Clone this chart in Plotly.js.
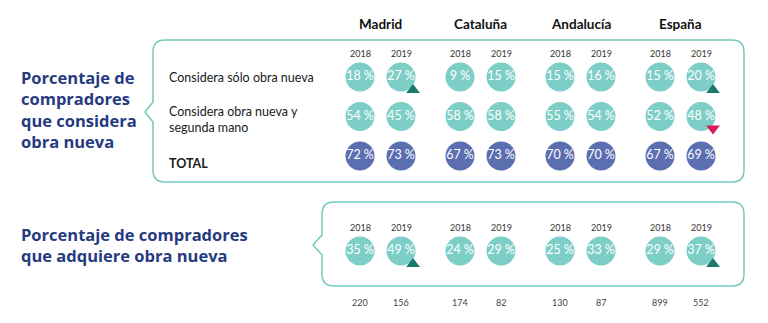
<!DOCTYPE html>
<html><head><meta charset="utf-8">
<script src="https://cdn.plot.ly/plotly-3.0.1.min.js"></script>
<style>html,body{margin:0;padding:0;background:#fff;}#chart{width:768px;height:323px;}</style>
</head><body><div id="chart"></div>
<script>
// ---- data ----
const regiones = ['Madrid', 'Cataluña', 'Andalucía', 'España'];
const anios = ['2018', '2019'];
const filasConsidera = ['Considera sólo obra nueva', 'Considera obra nueva y<br>segunda mano', 'TOTAL'];
const soloNueva2018 = [18, 9, 15, 15];
const soloNueva2019 = [27, 15, 16, 20];
const nuevaYSegunda2018 = [54, 58, 55, 52];
const nuevaYSegunda2019 = [45, 58, 54, 48];
const total2018 = [72, 67, 70, 67];
const total2019 = [73, 73, 70, 69];
const adquiere2018 = [35, 24, 25, 29];
const adquiere2019 = [49, 29, 33, 37];
const muestra2018 = [220, 174, 130, 899];
const muestra2019 = [156, 82, 87, 552];
const cambioSolo2019 = ['up', '', '', 'up'];
const cambioNuevaYSegunda2019 = ['', '', '', 'down'];
const cambioAdquiere2019 = ['up', '', '', 'up'];
const tituloConsidera = 'Porcentaje de<br>compradores<br>que considera<br>obra nueva';
const tituloAdquiere = 'Porcentaje de compradores<br>que adquiere obra nueva';

// ---- layout constants ----
const W = 768, H = 323;
const XPX = 100, X0PX = 380.5;     // pixels per region, pixel of region 0
const YPX = 39.5, Y0PX = 77;       // pixels per row, pixel of row 0
const yearOff = 0.205;
const rowAdquiere = 4.405;
const teal = '#7dcec7', blue = '#5b6eb0', up = '#1b7a6e', down = '#d81b5b', navy = '#263a80', border = '#76c7c0';
const yRow = p => (p - Y0PX) / YPX;

const xOf = (i, yr) => i + (yr === 0 ? -yearOff : yearOff);
const idx = regiones.map((_, i) => i);

function circleTrace(vals, yr, row, color) {
  return {
    type: 'scatter', mode: 'markers+text', hoverinfo: 'skip',
    x: idx.map(i => xOf(i, yr)), y: idx.map(() => row),
    text: vals.map(v => v + ' %'), textposition: 'middle center',
    textfont: {family: 'Lato', size: 12.5, color: '#ffffff'},
    marker: {size: 29, color: color, line: {width: 0}}
  };
}
function arrowTrace(cambios, yr, row, dir) {
  const sel = idx.filter(i => cambios[i] === dir);
  return {
    type: 'scatter', mode: 'markers', hoverinfo: 'skip',
    x: sel.map(i => xOf(i, yr) + 12 / XPX),
    y: sel.map(() => row + (dir === 'up' ? 13 : 12) / YPX),
    marker: {symbol: dir === 'up' ? 'triangle-up' : 'triangle-down', size: 12, color: dir === 'up' ? up : down}
  };
}

const data = [
  circleTrace(soloNueva2018, 0, 0, teal), circleTrace(soloNueva2019, 1, 0, teal),
  circleTrace(nuevaYSegunda2018, 0, 1, teal), circleTrace(nuevaYSegunda2019, 1, 1, teal),
  circleTrace(total2018, 0, 2, blue), circleTrace(total2019, 1, 2, blue),
  circleTrace(adquiere2018, 0, rowAdquiere, teal), circleTrace(adquiere2019, 1, rowAdquiere, teal),
  arrowTrace(cambioSolo2019, 1, 0, 'up'),
  arrowTrace(cambioNuevaYSegunda2019, 1, 1, 'down'),
  arrowTrace(cambioAdquiere2019, 1, rowAdquiere, 'up')
];

const ann = [];
regiones.forEach((r, i) => {
  ann.push({x: i, y: yRow(24), xref: 'x', yref: 'y', text: '<b>' + r + '</b>', showarrow: false,
    font: {family: 'Lato', size: 13.5, color: '#111'}});
  anios.forEach((a, yr) => {
    ann.push({x: xOf(i, yr), y: yRow(53), xref: 'x', yref: 'y', text: a, showarrow: false,
      font: {family: 'Lato', size: 9, color: '#333'}});
    ann.push({x: xOf(i, yr), y: yRow(227), xref: 'x', yref: 'y', text: a, showarrow: false,
      font: {family: 'Lato', size: 9, color: '#333'}});
  });
  ann.push({x: xOf(i, 0), y: yRow(302), xref: 'x', yref: 'y', text: String(muestra2018[i]), showarrow: false,
    font: {family: 'Lato', size: 9, color: '#444'}});
  ann.push({x: xOf(i, 1), y: yRow(302), xref: 'x', yref: 'y', text: String(muestra2019[i]), showarrow: false,
    font: {family: 'Lato', size: 9, color: '#444'}});
});
filasConsidera.forEach((f, k) => {
  ann.push({x: 167 / W, y: k === 2 ? yRow(163) : (k === 1 ? yRow(119) : k), xref: 'paper', yref: 'y', xanchor: 'left', align: 'left',
    text: k === 2 ? '<b>' + f + '</b>' : f, showarrow: false,
    font: {family: 'Lato', size: 12.5, color: '#1a1a1a'}});
});
ann.push({x: 19 / W, y: 1 - 109 / H, xref: 'paper', yref: 'paper', xanchor: 'left', yanchor: 'middle', align: 'left',
  text: '<b>' + tituloConsidera + '</b>', showarrow: false, font: {family: 'Open Sans', size: 16.5, color: navy}});
ann.push({x: 19 / W, y: 1 - 245 / H, xref: 'paper', yref: 'paper', xanchor: 'left', yanchor: 'middle', align: 'left',
  text: '<b>' + tituloAdquiere + '</b>', showarrow: false, font: {family: 'Open Sans', size: 16.5, color: navy}});

function bubble(l, r, t, b, py, pt) {
  const X = v => (v / W).toFixed(5), Y = v => (1 - v / H).toFixed(5), rr = 12;
  return `M${X(l + rr)},${Y(t)} L${X(r - rr)},${Y(t)} Q${X(r)},${Y(t)} ${X(r)},${Y(t + rr)} ` +
    `L${X(r)},${Y(b - rr)} Q${X(r)},${Y(b)} ${X(r - rr)},${Y(b)} L${X(l + rr)},${Y(b)} ` +
    `Q${X(l)},${Y(b)} ${X(l)},${Y(b - rr)} L${X(l)},${Y(py + 10)} L${X(pt)},${Y(py)} L${X(l)},${Y(py - 10)} ` +
    `L${X(l)},${Y(t + rr)} Q${X(l)},${Y(t)} ${X(l + rr)},${Y(t)} Z`;
}
const shapes = [
  {type: 'path', xref: 'paper', yref: 'paper', path: bubble(153, 744, 40, 182, 112, 145), line: {color: border, width: 1.5}},
  {type: 'path', xref: 'paper', yref: 'paper', path: bubble(322, 744, 202, 286, 245, 313), line: {color: border, width: 1.5}}
];

const layout = {
  width: W, height: H, margin: {l: 0, r: 0, t: 0, b: 0},
  paper_bgcolor: '#fff', plot_bgcolor: '#fff', showlegend: false,
  xaxis: {range: [-X0PX / XPX, (W - X0PX) / XPX], visible: false, fixedrange: true},
  yaxis: {range: [(H - Y0PX) / YPX, -Y0PX / YPX], visible: false, fixedrange: true},
  annotations: ann, shapes: shapes
};
Plotly.newPlot('chart', data, layout, {displayModeBar: false, staticPlot: true});
</script></body></html>
